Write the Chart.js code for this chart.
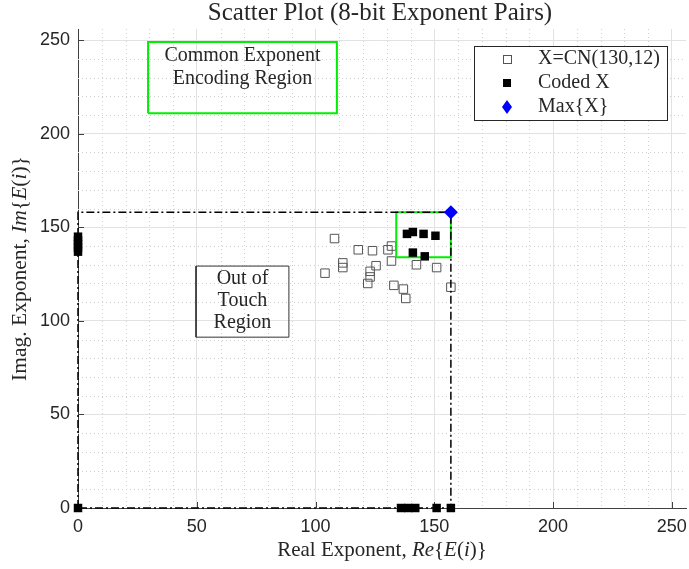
<!DOCTYPE html>
<html>
<head>
<meta charset="utf-8">
<script src="https://cdn.jsdelivr.net/npm/chart.js@4.4.1/dist/chart.umd.min.js"></script>
<style>
html, body { margin: 0; padding: 0; background: #fff; }
</style>
</head>
<body>
<canvas id="scatterChart" width="689" height="569"></canvas>
<script>
// axis ticks (8-bit range)
const tickValues = [0, 50, 100, 150, 200, 250];

// X = CN(130,12) exponent pairs
const cnReal = [108, 118, 124, 130.5, 132, 132, 111.5, 111.5, 104, 125.5, 123, 123, 122, 133, 137, 138, 142.5, 151, 157];
const cnImag = [144, 138, 137.5, 138, 140, 132, 131, 128.5, 125.5, 129.5, 126.5, 123.5, 120, 119, 117, 112, 130, 128.5, 118];

// coded X
const codedReal = [138.5, 141, 145.5, 150.5, 141, 146];
const codedImag = [146.5, 147.5, 146.5, 145.5, 136.5, 134.5];
const codedOnRealAxis = [0, 136, 139, 142, 151, 157];
const codedOnImagAxis = [137, 139, 141, 143, 145];

// max{X}
const maxReal = [157];
const maxImag = [158];

// region boxes in data units
const touchBoxX = [134, 157];
const touchBoxY = [134, 158];
const commonBoxX = [29.5, 109];
const commonBoxY = [211, 249];
const outBoxX = [49.7, 88.8];
const outBoxY = [91.3, 129.3];

const legendLabels = ['X=CN(130,12)', 'Coded X', 'Max{X}'];
const commonText = ['Common Exponent', 'Encoding Region'];
const outText = ['Out of', 'Touch', 'Region'];

const SERIF = '"Liberation Serif", "DejaVu Serif", serif';
const TEXT = '#262626';

function boxPath(xs, ys) {
    return [
        { x: xs[0], y: ys[0] }, { x: xs[1], y: ys[0] },
        { x: xs[1], y: ys[1] }, { x: xs[0], y: ys[1] }, { x: xs[0], y: ys[0] }
    ];
}

const cnPoints = cnReal.map((x, i) => ({ x: x, y: cnImag[i] }));
const codedPoints = codedReal.map((x, i) => ({ x: x, y: codedImag[i] }))
    .concat(codedOnRealAxis.map(x => ({ x: x, y: 0 })))
    .concat(codedOnImagAxis.map(y => ({ x: 0, y: y })));
const maxPoints = maxReal.map((x, i) => ({ x: x, y: maxImag[i] }));
const boundary = [
    { x: 0, y: 0 }, { x: 0, y: maxImag[0] }, { x: maxReal[0], y: maxImag[0] },
    { x: maxReal[0], y: 0 }, { x: 0, y: 0 }
];

function drawRich(ctx, parts, cx, cy, size, rotate) {
    ctx.save();
    ctx.translate(cx, cy);
    if (rotate) ctx.rotate(-Math.PI / 2);
    let total = 0;
    parts.forEach(p => {
        ctx.font = (p[1] ? 'italic ' : '') + size + 'px ' + SERIF;
        total += ctx.measureText(p[0]).width;
    });
    let x = -total / 2;
    ctx.textBaseline = 'middle';
    ctx.textAlign = 'left';
    ctx.fillStyle = TEXT;
    parts.forEach(p => {
        ctx.font = (p[1] ? 'italic ' : '') + size + 'px ' + SERIF;
        ctx.fillText(p[0], x, 0);
        x += ctx.measureText(p[0]).width;
    });
    ctx.restore();
}

const decorations = {
    id: 'decorations',
    beforeDatasetsDraw(chart) {
        const { ctx, chartArea: a, scales: { x, y } } = chart;
        ctx.save();
        // minor dotted grid every 10
        ctx.strokeStyle = '#cfcfcf';
        ctx.lineWidth = 1;
        ctx.setLineDash([1, 3]);
        for (let v = 10; v <= 256; v += 10) {
            if (v % 50 === 0) continue;
            const px = Math.round(x.getPixelForValue(v)) + 0.5;
            ctx.beginPath(); ctx.moveTo(px, a.top); ctx.lineTo(px, a.bottom); ctx.stroke();
            const py = Math.round(y.getPixelForValue(v)) + 0.5;
            ctx.beginPath(); ctx.moveTo(a.left, py); ctx.lineTo(a.right, py); ctx.stroke();
        }
        ctx.setLineDash([]);
        // inward tick marks
        ctx.strokeStyle = '#404040';
        tickValues.forEach(v => {
            const px = Math.round(x.getPixelForValue(v)) + 0.5;
            ctx.beginPath(); ctx.moveTo(px, a.bottom); ctx.lineTo(px, a.bottom - 6); ctx.stroke();
            const py = Math.round(y.getPixelForValue(v)) + 0.5;
            ctx.beginPath(); ctx.moveTo(a.left, py); ctx.lineTo(a.left + 6, py); ctx.stroke();
        });
        // x tick labels (drawn here so the "250" label does not shrink the plot area)
        ctx.fillStyle = TEXT;
        ctx.font = '18px "Liberation Sans"';
        ctx.textAlign = 'center';
        ctx.textBaseline = 'middle';
        tickValues.forEach(v => ctx.fillText(String(v), x.getPixelForValue(v), a.bottom + 19));
        ctx.restore();
    },
    afterDatasetsDraw(chart) {
        const { ctx, scales: { x, y } } = chart;
        ctx.save();
        ctx.fillStyle = TEXT;
        ctx.textAlign = 'center';
        ctx.textBaseline = 'middle';
        ctx.font = '20px ' + SERIF;
        let cx = (x.getPixelForValue(commonBoxX[0]) + x.getPixelForValue(commonBoxX[1])) / 2;
        let top = y.getPixelForValue(commonBoxY[1]);
        commonText.forEach((t, i) => ctx.fillText(t, cx, top + 14 + i * 23));
        cx = (x.getPixelForValue(outBoxX[0]) + x.getPixelForValue(outBoxX[1])) / 2;
        top = y.getPixelForValue(outBoxY[1]);
        outText.forEach((t, i) => ctx.fillText(t, cx, top + 13 + i * 22));
        ctx.restore();
    },
    afterDraw(chart) {
        const { ctx, chartArea: a } = chart;
        ctx.save();
        // title
        ctx.fillStyle = TEXT;
        ctx.textAlign = 'center';
        ctx.textBaseline = 'middle';
        ctx.font = '25px ' + SERIF;
        ctx.fillText('Scatter Plot (8-bit Exponent Pairs)', 380, 13);

        // legend
        const lx = 474.5, ly = 46.5, lw = 193, lh = 74;
        ctx.fillStyle = '#fff';
        ctx.fillRect(lx, ly, lw, lh);
        ctx.strokeStyle = '#262626';
        ctx.lineWidth = 1;
        ctx.strokeRect(lx, ly, lw, lh);
        const rows = [59, 83, 107];
        const mx = 507;
        // open square
        ctx.strokeStyle = '#555';
        ctx.strokeRect(mx - 3.5, rows[0] - 3.5, 8, 8);
        // filled square
        ctx.fillStyle = '#000';
        ctx.fillRect(mx - 4, rows[1] - 4, 8, 8);
        // diamond
        ctx.fillStyle = '#0000ff';
        ctx.beginPath();
        ctx.moveTo(mx, rows[2] - 7); ctx.lineTo(mx + 5, rows[2]);
        ctx.lineTo(mx, rows[2] + 7); ctx.lineTo(mx - 5, rows[2]);
        ctx.closePath(); ctx.fill();
        ctx.fillStyle = TEXT;
        ctx.textAlign = 'left';
        ctx.font = '20px ' + SERIF;
        legendLabels.forEach((t, i) => ctx.fillText(t, 538, rows[i]));
        ctx.restore();

        // axis titles
        drawRich(ctx, [['Real Exponent, ', 0], ['Re', 1], ['{', 0], ['E', 1], ['(', 0], ['i', 1], [')}', 0]],
            382, 550, 21, false);
        drawRich(ctx, [['Imag. Exponent, ', 0], ['Im', 1], ['{', 0], ['E', 1], ['(', 0], ['i', 1], [')}', 0]],
            20, (a.top + a.bottom) / 2, 21.5, true);
    }
};

const axisCommon = {
    type: 'linear',
    min: 0,
    max: 256,
    afterBuildTicks: s => { s.ticks = tickValues.map(v => ({ value: v })); },
    grid: { color: '#e2e2e2', drawTicks: false },
    border: { color: '#404040', width: 1 },
    ticks: {
        autoSkip: false,
        maxRotation: 0,
        color: TEXT,
        font: { family: 'Liberation Sans', size: 18 }
    }
};

const ctxScatter = document.getElementById('scatterChart').getContext('2d');
new Chart(ctxScatter, {
    type: 'scatter',
    data: {
        datasets: [
            {
                label: 'Max{X}',
                data: maxPoints,
                pointStyle: 'rectRot',
                pointRadius: 7,
                backgroundColor: '#0000ff',
                borderColor: '#0000ff',
                borderWidth: 0,
                clip: false,
                order: 0
            },
            {
                label: 'Coded X',
                data: codedPoints,
                pointStyle: 'rect',
                pointRadius: 6,
                backgroundColor: '#000',
                borderColor: '#000',
                borderWidth: 0,
                clip: false,
                order: 1
            },
            {
                label: 'boundary',
                data: boundary,
                showLine: true,
                pointRadius: 0,
                borderColor: '#000',
                borderWidth: 1.5,
                borderDash: [8, 3, 2, 3],
                clip: false,
                order: 2
            },
            {
                label: 'touch box',
                data: boxPath(touchBoxX, touchBoxY),
                showLine: true,
                pointRadius: 0,
                borderColor: '#00ee00',
                borderWidth: 2,
                order: 3
            },
            {
                label: 'common box',
                data: boxPath(commonBoxX, commonBoxY),
                showLine: true,
                pointRadius: 0,
                borderColor: '#00ee00',
                borderWidth: 2,
                order: 3
            },
            {
                label: 'out box',
                data: boxPath(outBoxX, outBoxY),
                showLine: true,
                pointRadius: 0,
                borderColor: '#333',
                borderWidth: 1,
                order: 3
            },
            {
                label: 'X=CN(130,12)',
                data: cnPoints,
                pointStyle: 'rect',
                pointRadius: 6,
                backgroundColor: 'rgba(255,255,255,0)',
                borderColor: '#555',
                borderWidth: 1,
                order: 4
            }
        ]
    },
    options: {
        responsive: false,
        animation: false,
        layout: { autoPadding: false, padding: { top: 29, right: 3, left: 0, bottom: 0 } },
        scales: {
            x: Object.assign({}, axisCommon, {
                afterFit: s => { s.height = 61; },
                ticks: Object.assign({}, axisCommon.ticks, { display: false })
            }),
            y: Object.assign({}, axisCommon, {
                afterFit: s => { s.width = 78; },
                ticks: Object.assign({}, axisCommon.ticks, { padding: 8 })
            })
        },
        plugins: {
            legend: { display: false },
            tooltip: { enabled: false }
        }
    },
    plugins: [decorations]
});
</script>
</body>
</html>
